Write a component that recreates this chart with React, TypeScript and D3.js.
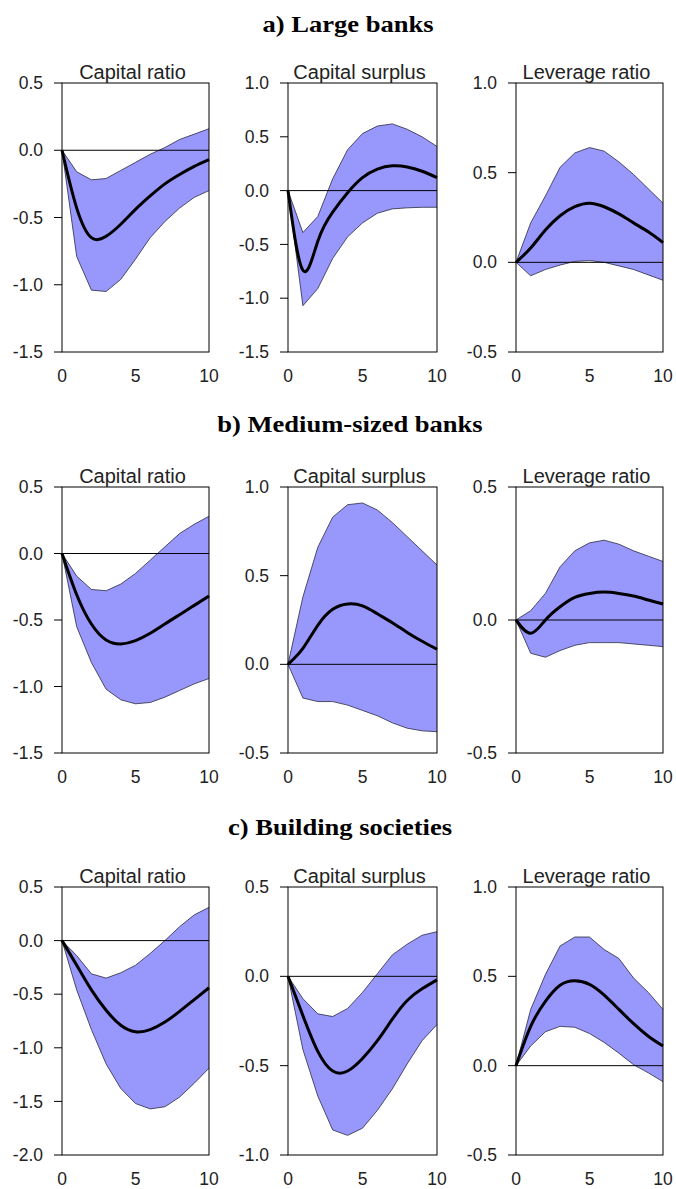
import React from "react";
import * as d3 from "d3";

// Impulse-response horizons (quarters)
const horizons = [0, 1, 2, 3, 4, 5, 6, 7, 8, 9, 10];
const xTicks = [0, 5, 10];

const sectionTitles = ["a) Large banks", "b) Medium-sized banks", "c) Building societies"];
const panelTitles = ["Capital ratio", "Capital surplus", "Leverage ratio"];

// a) Large banks
const largeCapRatioMean = [0, -0.43, -0.65, -0.64, -0.55, -0.44, -0.34, -0.25, -0.18, -0.12, -0.07];
const largeCapRatioUpper = [0, -0.16, -0.22, -0.21, -0.15, -0.09, -0.03, 0.02, 0.08, 0.12, 0.16];
const largeCapRatioLower = [0, -0.79, -1.04, -1.05, -0.96, -0.81, -0.65, -0.53, -0.43, -0.35, -0.3];

const largeSurplusMean = [0, -0.74, -0.47, -0.2, -0.02, 0.12, 0.2, 0.23, 0.22, 0.18, 0.12];
const largeSurplusUpper = [0, -0.39, -0.24, 0.11, 0.38, 0.53, 0.6, 0.62, 0.57, 0.5, 0.41];
const largeSurplusLower = [0, -1.07, -0.91, -0.63, -0.43, -0.3, -0.21, -0.17, -0.16, -0.155, -0.155];

const largeLevMean = [0, 0.08, 0.18, 0.26, 0.31, 0.33, 0.31, 0.27, 0.22, 0.17, 0.11];
const largeLevUpper = [0, 0.22, 0.37, 0.53, 0.61, 0.64, 0.62, 0.56, 0.49, 0.41, 0.33];
const largeLevLower = [0, -0.075, -0.04, -0.015, 0.005, 0.01, 0.0, -0.02, -0.04, -0.07, -0.1];

// b) Medium-sized banks
const mediumCapRatioMean = [0, -0.31, -0.53, -0.65, -0.68, -0.655, -0.6, -0.53, -0.46, -0.39, -0.32];
const mediumCapRatioUpper = [0, -0.17, -0.27, -0.28, -0.23, -0.15, -0.05, 0.05, 0.15, 0.22, 0.28];
const mediumCapRatioLower = [0, -0.55, -0.82, -1.02, -1.1, -1.13, -1.12, -1.08, -1.03, -0.98, -0.94];

const mediumSurplusMean = [0, 0.09, 0.22, 0.31, 0.34, 0.33, 0.285, 0.235, 0.18, 0.13, 0.085];
const mediumSurplusUpper = [0, 0.38, 0.66, 0.83, 0.9, 0.91, 0.87, 0.8, 0.72, 0.64, 0.56];
const mediumSurplusLower = [0, -0.19, -0.21, -0.21, -0.23, -0.26, -0.29, -0.33, -0.36, -0.375, -0.38];

const mediumLevMean = [0, -0.05, 0.0, 0.05, 0.085, 0.1, 0.105, 0.1, 0.09, 0.075, 0.06];
const mediumLevUpper = [0, 0.035, 0.1, 0.2, 0.26, 0.29, 0.3, 0.285, 0.26, 0.24, 0.22];
const mediumLevLower = [0, -0.125, -0.14, -0.115, -0.095, -0.085, -0.085, -0.085, -0.09, -0.095, -0.1];

// c) Building societies
const bsCapRatioMean = [0, -0.23, -0.46, -0.65, -0.79, -0.85, -0.83, -0.76, -0.66, -0.55, -0.44];
const bsCapRatioUpper = [0, -0.14, -0.31, -0.35, -0.3, -0.23, -0.12, 0.0, 0.13, 0.24, 0.31];
const bsCapRatioLower = [0, -0.46, -0.83, -1.15, -1.38, -1.52, -1.57, -1.55, -1.46, -1.33, -1.19];

const bsSurplusMean = [0, -0.22, -0.42, -0.53, -0.53, -0.46, -0.36, -0.24, -0.135, -0.07, -0.02];
const bsSurplusUpper = [0, -0.125, -0.21, -0.225, -0.18, -0.09, 0.015, 0.12, 0.18, 0.23, 0.25];
const bsSurplusLower = [0, -0.41, -0.67, -0.86, -0.89, -0.85, -0.75, -0.63, -0.49, -0.36, -0.27];

const bsLevMean = [0, 0.22, 0.36, 0.45, 0.475, 0.455, 0.395, 0.315, 0.235, 0.165, 0.11];
const bsLevUpper = [0, 0.315, 0.51, 0.67, 0.72, 0.72, 0.65, 0.6, 0.49, 0.41, 0.315];
const bsLevLower = [0, 0.11, 0.19, 0.22, 0.215, 0.18, 0.13, 0.07, 0.005, -0.04, -0.09];

// y-axis domains per panel
const yDomains: [number, number][][] = [
  [[-1.5, 0.5], [-1.5, 1.0], [-0.5, 1.0]],
  [[-1.5, 0.5], [-0.5, 1.0], [-0.5, 0.5]],
  [[-2.0, 0.5], [-1.0, 0.5], [-0.5, 1.0]],
];

const rows = [
  [
    [largeCapRatioMean, largeCapRatioUpper, largeCapRatioLower],
    [largeSurplusMean, largeSurplusUpper, largeSurplusLower],
    [largeLevMean, largeLevUpper, largeLevLower],
  ],
  [
    [mediumCapRatioMean, mediumCapRatioUpper, mediumCapRatioLower],
    [mediumSurplusMean, mediumSurplusUpper, mediumSurplusLower],
    [mediumLevMean, mediumLevUpper, mediumLevLower],
  ],
  [
    [bsCapRatioMean, bsCapRatioUpper, bsCapRatioLower],
    [bsSurplusMean, bsSurplusUpper, bsSurplusLower],
    [bsLevMean, bsLevUpper, bsLevLower],
  ],
];

const W = 676;
const H = 1189;
const colX: [number, number][] = [[62, 209], [288, 437], [516, 663]];
const rowY: [number, number][] = [[83, 352], [487, 753], [887, 1155]];
const sectionTitleY = [32, 432, 835];
const sectionTitleX = [348, 350, 340];

const bandFill = "#9898fc";
const sansFont = "'Liberation Sans', Arial, sans-serif";
const serifFont = "'Liberation Serif', 'Times New Roman', serif";

function Panel({ x0, x1, y0, y1, domain, mean, upper, lower, title }: {
  x0: number; x1: number; y0: number; y1: number;
  domain: [number, number];
  mean: number[]; upper: number[]; lower: number[];
  title: string;
}) {
  const x = d3.scaleLinear().domain([0, 10]).range([x0, x1]);
  const y = d3.scaleLinear().domain(domain).range([y1, y0]);
  const yTicks = d3.range(domain[0], domain[1] + 0.001, 0.5);

  const area = d3.area<number>()
    .x((_, i) => x(horizons[i]))
    .y0((_, i) => y(lower[i]))
    .y1((_, i) => y(upper[i]));
  const edge = d3.line<number>()
    .x((_, i) => x(horizons[i]))
    .y((v) => y(v));
  const meanLine = d3.line<number>()
    .x((_, i) => x(horizons[i]))
    .y((v) => y(v))
    .curve(d3.curveNatural);

  return (
    <g>
      <path d={area(upper) || ""} fill={bandFill} stroke="none" />
      <path d={edge(upper) || ""} fill="none" stroke="#2a2a40" strokeWidth={0.8} />
      <path d={edge(lower) || ""} fill="none" stroke="#2a2a40" strokeWidth={0.8} />
      <line x1={x0} x2={x1} y1={y(0)} y2={y(0)} stroke="#000" strokeWidth={1} />
      <path d={meanLine(mean) || ""} fill="none" stroke="#000" strokeWidth={3} strokeLinejoin="round" />
      <rect x={x0} y={y0} width={x1 - x0} height={y1 - y0} fill="none" stroke="#000" strokeWidth={1} />
      {yTicks.map((t) => (
        <g key={t}>
          <line x1={x0 - 8} x2={x0} y1={y(t)} y2={y(t)} stroke="#000" strokeWidth={1} />
          <text x={x0 - 19} y={y(t)} dy="0.35em" textAnchor="end" fontFamily={sansFont} fontSize={17.5} fill="#222">
            {t.toFixed(1)}
          </text>
        </g>
      ))}
      {xTicks.map((t) => (
        <text key={t} x={x(t)} y={y1 + 30} textAnchor="middle" fontFamily={sansFont} fontSize={17.5} fill="#222">
          {t}
        </text>
      ))}
      <text x={(x0 + x1) / 2 - 3} y={y0 - 4} textAnchor="middle" fontFamily={sansFont} fontSize={20} fill="#222">
        {title}
      </text>
    </g>
  );
}

export default function App() {
  return (
    <svg width={W} height={H} viewBox={`0 0 ${W} ${H}`}
      style={{ position: "absolute", left: 0, top: 0, background: "#fff", display: "block" }}>
      <rect x={0} y={0} width={W} height={H} fill="#fff" />
      {rows.map((row, r) => (
        <g key={r}>
          <g transform={`translate(${sectionTitleX[r]},${sectionTitleY[r]}) scale(1.18,1)`}>
            <text x={0} y={0} textAnchor="middle" fontFamily={serifFont} fontWeight="bold" fontSize={22.5}>
              {sectionTitles[r]}
            </text>
          </g>
          {row.map(([mean, upper, lower], c) => (
            <Panel key={c}
              x0={colX[c][0]} x1={colX[c][1]} y0={rowY[r][0]} y1={rowY[r][1]}
              domain={yDomains[r][c]} mean={mean} upper={upper} lower={lower}
              title={panelTitles[c]} />
          ))}
        </g>
      ))}
    </svg>
  );
}
